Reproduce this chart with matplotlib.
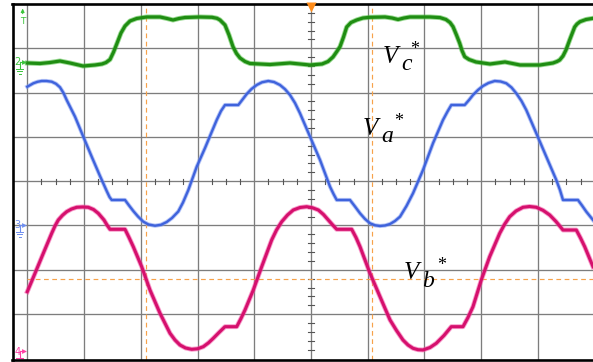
import matplotlib
matplotlib.use("Agg")
import matplotlib.pyplot as plt

# ---- waveform samples (x in horizontal divisions, y in vertical divisions) ----
vc_x = [0.000, 0.224, 0.400, 0.576, 0.753, 0.982, 1.193, 1.317, 1.387, 1.458, 1.519, 1.576,
        1.651, 1.722, 1.810, 1.928, 2.104, 2.339, 2.462, 2.568, 2.674, 2.779, 3.044, 3.255,
        3.343, 3.396, 3.484, 3.555, 3.625, 3.687, 3.749, 3.837, 3.925, 4.277, 4.630, 4.983,
        5.195, 5.300, 5.388, 5.449, 5.511, 5.573, 5.629, 5.705, 5.805, 5.916, 6.040, 6.305,
        6.428, 6.534, 6.640, 6.745, 7.098, 7.274, 7.379, 7.450, 7.503, 7.564, 7.621, 7.661,
        7.709, 7.785, 7.908, 8.155, 8.419, 8.684, 9.036, 9.265, 9.335, 9.383, 9.441, 9.494,
        9.565, 9.647, 9.688, 9.741, 9.846, 9.970]
vc_y = [2.668, 2.657, 2.679, 2.713, 2.668, 2.600, 2.623, 2.646, 2.679, 2.747, 2.912, 3.097,
        3.345, 3.503, 3.616, 3.673, 3.707, 3.707, 3.673, 3.639, 3.673, 3.695, 3.707, 3.700,
        3.677, 3.639, 3.526, 3.300, 3.036, 2.883, 2.781, 2.702, 2.657, 2.634, 2.668, 2.623,
        2.646, 2.702, 2.804, 2.916, 3.036, 3.255, 3.481, 3.582, 3.639, 3.684, 3.700, 3.707,
        3.684, 3.650, 3.684, 3.707, 3.707, 3.693, 3.650, 3.582, 3.488, 3.300, 3.113, 2.950,
        2.810, 2.747, 2.691, 2.646, 2.691, 2.623, 2.623, 2.668, 2.702, 2.736, 2.826, 2.962,
        3.210, 3.481, 3.548, 3.601, 3.650, 3.677]

va_x = [0.000, 0.106, 0.180, 0.254, 0.338, 0.430, 0.506, 0.576, 0.638, 0.694, 0.841, 0.987,
        1.135, 1.281, 1.352, 1.399, 1.449, 1.487, 1.722, 1.793, 1.868, 1.951, 2.044, 2.136,
        2.251, 2.356, 2.457, 2.550, 2.661, 2.744, 2.838, 2.986, 3.132, 3.220, 3.338, 3.414,
        3.484, 3.719, 3.793, 3.867, 3.951, 4.043, 4.136, 4.247, 4.348, 4.453, 4.542, 4.630,
        4.718, 4.806, 4.983, 5.159, 5.335, 5.397, 5.453, 5.687, 5.775, 5.864, 5.952, 6.040,
        6.128, 6.216, 6.305, 6.393, 6.481, 6.569, 6.683, 6.798, 6.974, 7.150, 7.326, 7.406,
        7.473, 7.709, 7.785, 7.855, 7.943, 8.031, 8.128, 8.238, 8.340, 8.442, 8.534, 8.618,
        8.710, 8.794, 8.971, 9.147, 9.323, 9.388, 9.441, 9.705, 9.776, 9.852, 9.970]
va_y = [2.133, 2.210, 2.244, 2.262, 2.262, 2.246, 2.199, 2.120, 1.991, 1.833, 1.456, 1.005,
        0.553, 0.117, -0.086, -0.221, -0.357, -0.424, -0.424, -0.548, -0.673, -0.797, -0.914,
        -0.977, -1.005, -0.984, -0.921, -0.831, -0.684, -0.481, -0.199, 0.327, 0.749, 1.020,
        1.381, 1.585, 1.720, 1.720, 1.844, 1.968, 2.081, 2.172, 2.233, 2.262, 2.239, 2.172,
        2.077, 1.946, 1.765, 1.533, 1.005, 0.479, -0.124, -0.289, -0.424, -0.424, -0.571,
        -0.725, -0.853, -0.950, -0.995, -1.011, -1.000, -0.966, -0.898, -0.801, -0.560,
        -0.273, 0.253, 0.856, 1.381, 1.573, 1.720, 1.720, 1.833, 1.946, 2.059, 2.149, 2.217,
        2.262, 2.251, 2.210, 2.115, 1.984, 1.810, 1.607, 1.081, 0.553, 0.027, -0.199, -0.424,
        -0.424, -0.548, -0.688, -0.876]

vb_x = [0.000, 0.136, 0.282, 0.430, 0.488, 0.546, 0.620, 0.694, 0.779, 0.871, 0.973, 1.075,
        1.167, 1.251, 1.352, 1.405, 1.458, 1.722, 1.793, 1.868, 2.016, 2.162, 2.339, 2.515,
        2.603, 2.691, 2.788, 2.897, 3.000, 3.102, 3.194, 3.278, 3.379, 3.484, 3.691, 3.766,
        3.837, 3.983, 4.131, 4.307, 4.392, 4.484, 4.586, 4.688, 4.806, 4.924, 5.026, 5.129,
        5.220, 5.305, 5.379, 5.453, 5.717, 5.793, 5.864, 6.040, 6.216, 6.393, 6.507, 6.621,
        6.710, 6.798, 6.886, 6.974, 7.098, 7.208, 7.344, 7.473, 7.679, 7.767, 7.855, 8.001,
        8.149, 8.326, 8.410, 8.502, 8.613, 8.736, 8.851, 8.971, 9.089, 9.207, 9.318, 9.441,
        9.676, 9.750, 9.824, 9.970]
vb_y = [-2.494, -2.079, -1.628, -1.176, -1.011, -0.876, -0.770, -0.688, -0.628, -0.589,
        -0.582, -0.589, -0.639, -0.725, -0.876, -0.989, -1.086, -1.086, -1.271, -1.479,
        -1.930, -2.456, -2.982, -3.433, -3.585, -3.698, -3.765, -3.795, -3.783, -3.736,
        -3.648, -3.546, -3.415, -3.284, -3.284, -3.099, -2.907, -2.456, -1.930, -1.327,
        -1.102, -0.914, -0.763, -0.650, -0.594, -0.576, -0.600, -0.650, -0.752, -0.876,
        -0.984, -1.086, -1.086, -1.271, -1.479, -2.079, -2.607, -3.133, -3.370, -3.585,
        -3.698, -3.772, -3.804, -3.810, -3.754, -3.659, -3.483, -3.284, -3.284, -3.077,
        -2.833, -2.230, -1.704, -1.176, -0.977, -0.801, -0.673, -0.589, -0.571, -0.589,
        -0.657, -0.763, -0.910, -1.102, -1.102, -1.282, -1.479, -1.930]

# channel ground reference levels (divisions) and cursor positions
ch_levels = {"2": 2.68, "3": -1.00, "4": -3.86}
cursor_x = [2.092, 6.080]
cursor_y = -2.215
trigger_x = 5.0

# label pieces: main letter, subscript, superscript
label_main = ["V", "V", "V"]
label_sub = ["c", "a", "b"]
label_sup = ["*", "*", "*"]

W, H = 593, 362
fig = plt.figure(figsize=(W / 100, H / 100), dpi=100)
fig.patch.set_facecolor("white")

# screen area: left frame at px 12.5, graticule 0..10 div from px 27.3 to 594.7
left_px, right_px, top_px, bot_px = 12.5, 594.7, 4.0, 359.5
ax = fig.add_axes([left_px / W, 1 - bot_px / H, (right_px - left_px) / W, (bot_px - top_px) / H])
ax.set_xlim(-0.2608, 10.0)
ax.set_ylim(-4.025, 4.0)
ax.set_xticks([])
ax.set_yticks([])
for s in ("left", "top", "bottom"):
    ax.spines[s].set_linewidth(1.9)
    ax.spines[s].set_color("black")
ax.spines["right"].set_visible(False)

grid_c = "#7d7d7d"
for gx in range(0, 10):
    ax.axvline(gx, color=grid_c, lw=0.95, zorder=1)
for gy in range(-3, 4):
    ax.axhline(gy, color=grid_c, lw=0.95, zorder=1)

# minor ticks on the centre axes
for k in range(1, 40):
    if k % 4:
        ax.plot([k * 0.25, k * 0.25], [-0.055, 0.055], color="#555555", lw=0.8, zorder=1)
for k in range(-20, 21):
    if k % 5:
        ax.plot([5 - 0.045, 5 + 0.045], [k * 0.2, k * 0.2], color="#555555", lw=0.8, zorder=1)

# cursors
orange = "#f7a24a"
for cx in cursor_x:
    ax.axvline(cx, color=orange, lw=0.85, ls=(0, (4, 3)), zorder=2)
ax.axhline(cursor_y, xmin=0.2608 / 10.2608, color=orange, lw=0.85, ls=(0, (4, 3)), zorder=2)

# trigger position marker
ax.plot([trigger_x], [3.93], marker="v", ms=6.5, color="#ff8c1a", mec="none", zorder=6, clip_on=False)

# traces: soft outer halo plus core
def trace(x, y, halo, core, w):
    ax.plot(x, y, color=halo, lw=w + 1.3, alpha=0.55, solid_joinstyle="round", zorder=4)
    ax.plot(x, y, color=core, lw=w, solid_joinstyle="round", zorder=5)

trace(vc_x, vc_y, "#45bb38", "#1f8d12", 2.3)
trace(va_x, va_y, "#7895f2", "#3f63dc", 1.7)
trace(vb_x, vb_y, "#f24aa0", "#d5106d", 2.2)

# channel markers in the left margin
mk_cols = {"2": "#3cc43c", "3": "#6f8ff0", "4": "#ff3fa5"}
for name, lvl in ch_levels.items():
    c = mk_cols[name]
    ax.text(-0.225, lvl, name, color=c, fontsize=7, ha="left", va="center", zorder=6)
    ax.plot([-0.135, -0.135], [lvl - 0.12, lvl + 0.02], color=c, lw=0.8, zorder=6)
    ax.plot([-0.135, -0.06], [lvl + 0.02, lvl + 0.02], color=c, lw=0.8, zorder=6)
    ax.plot([-0.05], [lvl + 0.02], marker=">", ms=3.5, color=c, mec="none", zorder=6)
    for i, hw in enumerate([0.06, 0.04, 0.02]):
        yy = lvl - 0.14 - i * 0.06
        ax.plot([-0.135 - hw, -0.135 + hw], [yy, yy], color=c, lw=0.7, zorder=6)

# trigger level marker "T"
tc = "#3cc43c"
ax.annotate("", xy=(-0.082, 3.96), xytext=(-0.082, 3.72),
            arrowprops=dict(arrowstyle="-|>", color=tc, lw=0.8, mutation_scale=5))
ax.text(-0.082, 3.60, "T", color=tc, fontsize=6.5, ha="center", va="center")

# signal labels (italic serif letter, large subscript, raised asterisk)
def fpos(px, py):
    return px / W, 1 - py / H

label_pos = [((383, 63), (401, 70), (415, 49)),
             ((363, 135), (381, 142), (399, 121)),
             ((404, 279), (422, 287), (442, 265))]
fam = "Liberation Serif"
for main, sub, sup, (pm, ps, pa) in zip(label_main, label_sub, label_sup, label_pos):
    fig.text(*fpos(*pm), main, fontsize=18, family=fam, style="italic", ha="left", va="baseline")
    fig.text(*fpos(*ps), sub, fontsize=17, family=fam, style="italic", ha="left", va="baseline")
    fig.text(*fpos(*pa), sup, fontsize=13, family=fam, ha="center", va="center")

fig.savefig("out.png", dpi=100)
